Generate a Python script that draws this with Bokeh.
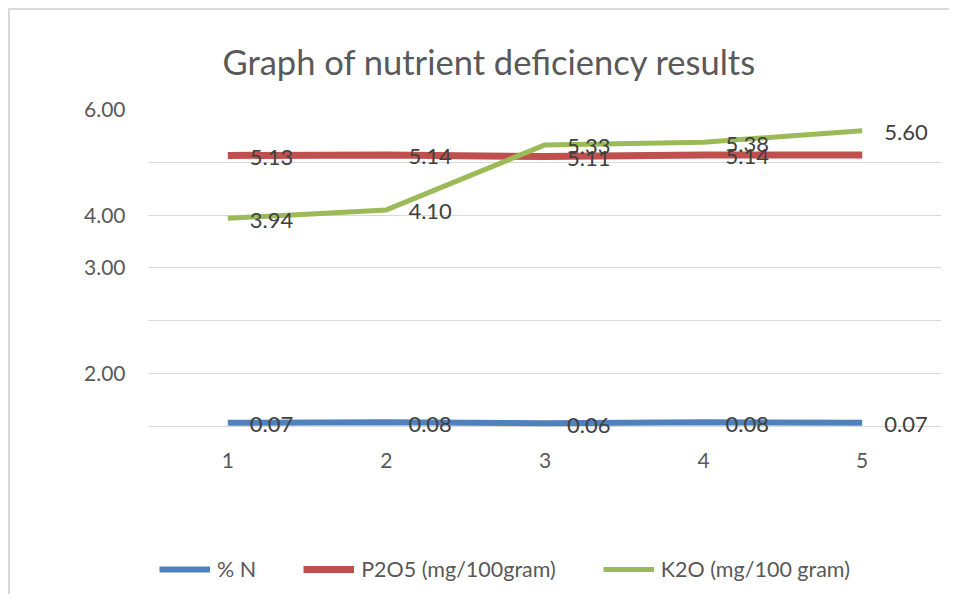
from bokeh.plotting import figure
from bokeh.models import Range1d, FixedTicker, Legend, LegendItem, ColumnDataSource
from bokeh.core.properties import value
from bokeh.embed import file_html
from bokeh.resources import INLINE

samples = [1, 2, 3, 4, 5]
n_pct = [0.07, 0.08, 0.06, 0.08, 0.07]
p2o5 = [5.13, 5.14, 5.11, 5.14, 5.14]
k2o = [3.94, 4.10, 5.33, 5.38, 5.60]
# which points carry a visible data label in the reference
n_show = [True, True, True, True, True]
p_show = [True, True, True, True, False]
k_show = [True, True, True, True, True]
series_names = ["% N", "P2O5 (mg/100gram)", "K2O (mg/100 gram)"]
y_ticks = [0, 1, 2, 3, 4, 5, 6]
y_tick_labels = ["", "2.00", "", "3.00", "4.00", "", "6.00"]
title_text = "Graph of nutrient deficiency results"

FONT = "Lato"
colors = ["#4F81BD", "#C0504D", "#9BBB59"]

p = figure(width=939, height=585, frame_width=793, frame_height=485,
           x_range=Range1d(0.5, 5.5), y_range=Range1d(-3.18, 6),
           output_backend="svg", toolbar_location=None,
           min_border_left=138, min_border_top=38, min_border_bottom=0,
           min_border_right=8)
p.styles = {"margin-left": "8px", "margin-top": "8px",
            "border-left": "2px solid #D9D9D9", "border-top": "2px solid #D9D9D9"}
p.outline_line_color = None

p.title.text = title_text
p.title.text_font = FONT
p.title.text_font_size = "34.5px"
p.title.text_font_style = "normal"
p.title.text_color = "#595959"
p.title.align = "left"
p.title.offset = 74
p.title.standoff = 56

p.xgrid.visible = False
p.ygrid.grid_line_color = "#D9D9D9"
p.ygrid.grid_line_width = 1
p.ygrid.ticker = FixedTicker(ticks=y_ticks)

p.yaxis.ticker = FixedTicker(ticks=y_ticks)
p.yaxis.major_label_overrides = {t: l for t, l in zip(y_ticks, y_tick_labels)}
p.xaxis.ticker = FixedTicker(ticks=samples)
p.xaxis.fixed_location = 0
for ax in (p.xaxis, p.yaxis):
    ax.axis_line_color = None
    ax.major_tick_line_color = None
    ax.minor_tick_line_color = None
    ax.major_label_text_font = FONT
    ax.major_label_text_font_size = "21px"
    ax.major_label_text_color = "#595959"
p.yaxis.major_label_standoff = 17
p.xaxis.major_label_standoff = 21

renderers = []
for vals, c, w in zip([n_pct, p2o5, k2o], colors, [6, 7, 5]):
    r = p.line(samples, vals, line_color=c, line_width=w)
    renderers.append(r)

for vals, show in zip([n_pct, p2o5, k2o], [n_show, p_show, k_show]):
    xs = [x for x, s in zip(samples, show) if s]
    ys = [v for v, s in zip(vals, show) if s]
    src = ColumnDataSource(dict(x=xs, y=ys, t=["%.2f" % v for v in ys]))
    p.text(x="x", y="y", text="t", source=src, x_offset=22, y_offset=2,
           text_baseline="middle", text_align="left",
           text_font=value(FONT), text_font_size="22px", text_color="#404040")

items = [LegendItem(label=n, renderers=[r]) for n, r in zip(series_names, renderers)]
legend = Legend(items=items, orientation="horizontal", location=(11, 12),
                border_line_color=None, background_fill_alpha=0,
                glyph_width=51, glyph_height=20, label_standoff=7, spacing=47,
                label_text_font=FONT, label_text_font_size="21.5px",
                label_text_color="#595959", margin=0, padding=10)
p.add_layout(legend, "center")

open("out.html", "w").write(file_html(p, INLINE))
